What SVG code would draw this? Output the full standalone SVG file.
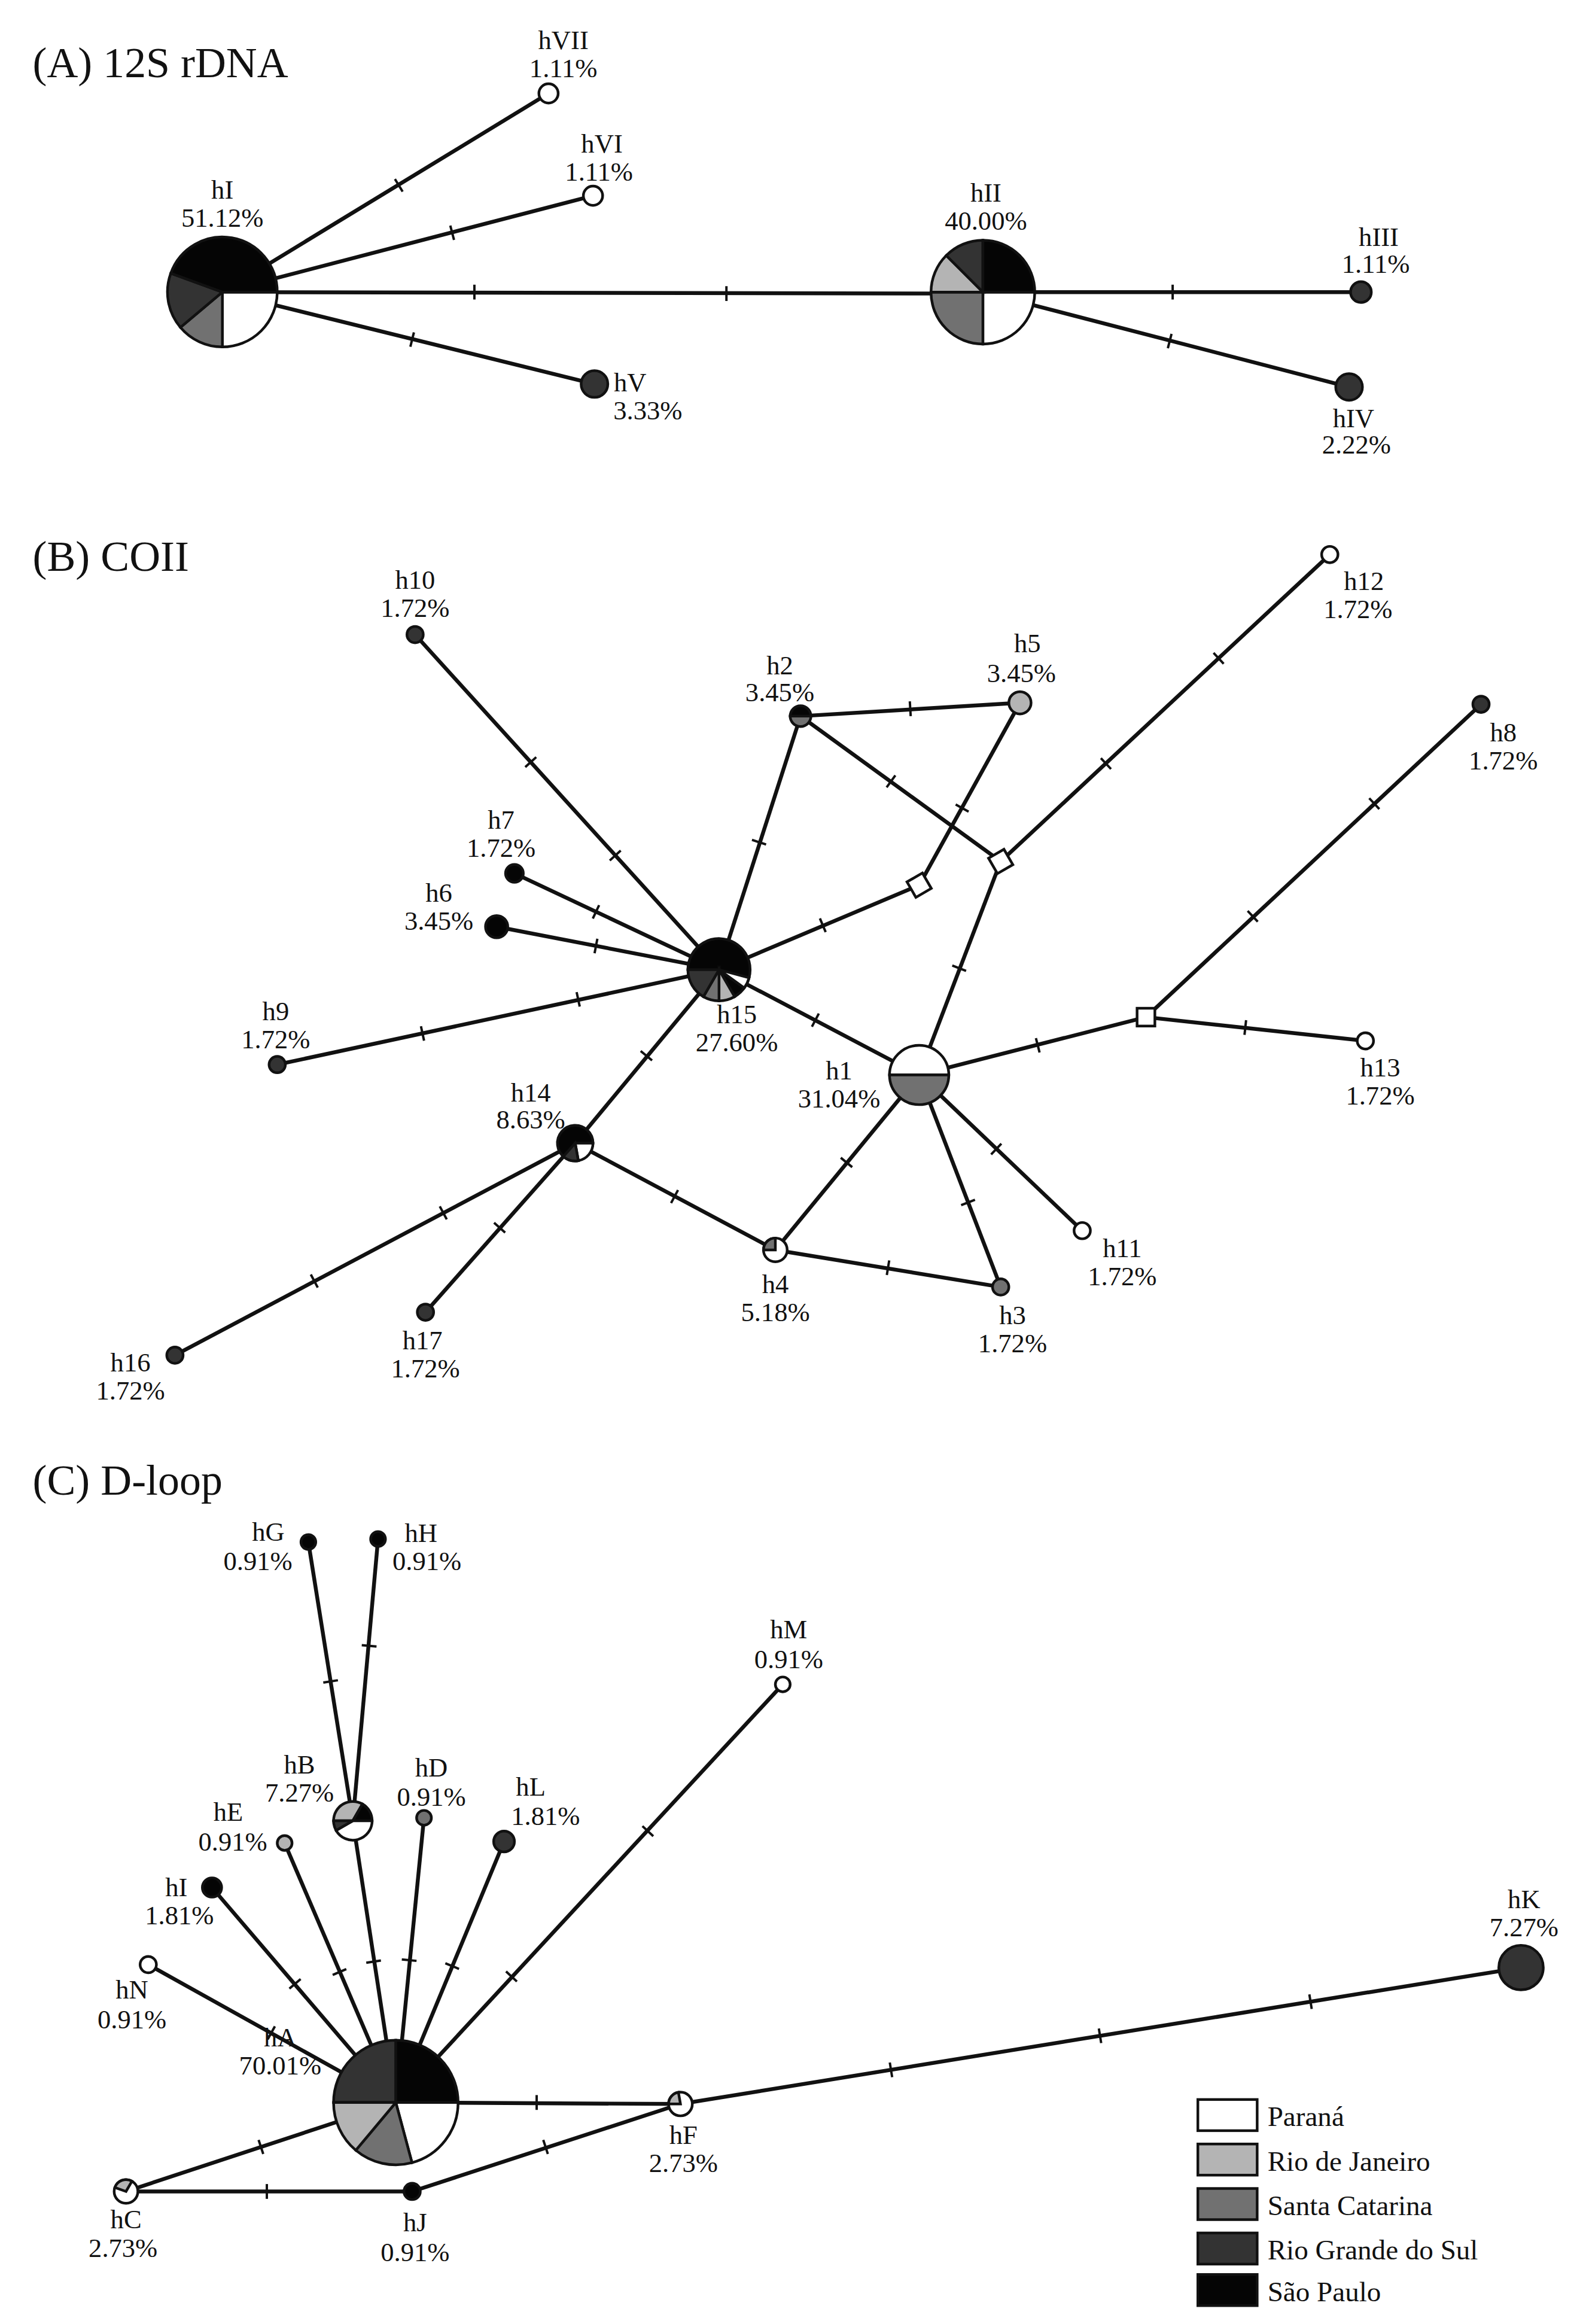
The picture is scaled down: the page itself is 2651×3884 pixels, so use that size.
<svg xmlns="http://www.w3.org/2000/svg" xmlns:xlink="http://www.w3.org/1999/xlink" width="2651" height="3884" viewBox="0 0 2651 3884">
<style>
text{font-family:"Liberation Serif","Times New Roman",serif;font-size:18px;fill:#111;text-anchor:middle}
.t{font-size:29px;text-anchor:start}
.lg{text-anchor:start;font-size:19px}
.e line,.e path{stroke:#111;stroke-width:2.6;fill:none}
.n circle,.n path,.n rect{stroke:#111;stroke-width:1.8}
.w{fill:#fff}.l{fill:#b4b4b4}.m{fill:#717171}.d{fill:#333}.k{fill:#050505}
</style>
<defs><line id="tk" x1="0" y1="-5" x2="0" y2="5" stroke="#111" stroke-width="1.6"/></defs>
<rect width="2651" height="3884" fill="#fff"/>
<g transform="scale(2.478)">
<text class="t" x="22" y="52">(A) 12S rDNA</text>
<text class="t" x="22" y="385">(B) COII</text>
<text class="t" x="22" y="1008">(C) D-loop</text>
<g id="connectors" class="e">
<line x1="150" y1="197" x2="370" y2="63"/><line x1="150" y1="197" x2="400" y2="132"/>
<line x1="150" y1="197" x2="663" y2="198"/><line x1="150" y1="197" x2="401" y2="259"/>
<line x1="663" y1="197" x2="918" y2="197"/><line x1="663" y1="197" x2="910" y2="261"/>
<line x1="280" y1="428" x2="485" y2="654"/><line x1="347" y1="589" x2="485" y2="654"/>
<line x1="335" y1="625" x2="485" y2="654"/><line x1="187" y1="718" x2="485" y2="654"/>
<line x1="485" y1="654" x2="540" y2="483"/><line x1="540" y1="483" x2="688" y2="474"/>
<line x1="620" y1="597" x2="688" y2="474"/><line x1="540" y1="483" x2="675" y2="581"/>
<line x1="485" y1="654" x2="620" y2="597"/><line x1="675" y1="581" x2="897" y2="374"/>
<line x1="675" y1="581" x2="620" y2="725"/><line x1="485" y1="654" x2="620" y2="725"/>
<line x1="620" y1="725" x2="773" y2="686"/><line x1="773" y1="686" x2="999" y2="475"/>
<line x1="773" y1="686" x2="921" y2="702"/><line x1="485" y1="654" x2="388" y2="771"/>
<line x1="388" y1="771" x2="118" y2="914"/><line x1="388" y1="771" x2="287" y2="885"/>
<line x1="388" y1="771" x2="523" y2="843"/><line x1="620" y1="725" x2="523" y2="843"/>
<line x1="523" y1="843" x2="675" y2="868"/><line x1="620" y1="725" x2="675" y2="868"/>
<line x1="620" y1="725" x2="730" y2="830"/>
<line x1="208" y1="1040" x2="238" y2="1228"/><line x1="255" y1="1038" x2="238" y2="1228"/>
<line x1="238" y1="1228" x2="267" y2="1418"/><line x1="192" y1="1243" x2="267" y2="1418"/>
<line x1="286" y1="1226" x2="267" y2="1418"/><line x1="340" y1="1242" x2="267" y2="1418"/>
<line x1="528" y1="1136" x2="267" y2="1418"/><line x1="143" y1="1273" x2="267" y2="1418"/>
<line x1="100" y1="1325" x2="267" y2="1418"/><line x1="267" y1="1418" x2="459" y2="1419"/>
<line x1="459" y1="1419" x2="1026" y2="1327"/><line x1="267" y1="1418" x2="85" y2="1478"/>
<line x1="85" y1="1478" x2="278" y2="1478"/><line x1="278" y1="1478" x2="459" y2="1419"/>
<use xlink:href="#tk" transform="translate(269,125) rotate(-31.3)"/>
<use xlink:href="#tk" transform="translate(305,157) rotate(-14.6)"/>
<use xlink:href="#tk" transform="translate(320,197)"/><use xlink:href="#tk" transform="translate(490,198)"/>
<use xlink:href="#tk" transform="translate(278,229) rotate(13.9)"/>
<use xlink:href="#tk" transform="translate(791,197)"/>
<use xlink:href="#tk" transform="translate(789,230) rotate(14.5)"/>
<use xlink:href="#tk" transform="translate(358,514) rotate(47.8)"/><use xlink:href="#tk" transform="translate(415,577) rotate(47.8)"/>
<use xlink:href="#tk" transform="translate(402,615) rotate(25.2)"/>
<use xlink:href="#tk" transform="translate(402,638) rotate(10.9)"/>
<use xlink:href="#tk" transform="translate(285,697) rotate(-12.1)"/><use xlink:href="#tk" transform="translate(390,674) rotate(-12.1)"/>
<use xlink:href="#tk" transform="translate(512,568) rotate(-72.2)"/>
<use xlink:href="#tk" transform="translate(614,478) rotate(-3.5)"/>
<use xlink:href="#tk" transform="translate(649,545) rotate(-61)"/>
<use xlink:href="#tk" transform="translate(601,527) rotate(36)"/>
<use xlink:href="#tk" transform="translate(555,624) rotate(-22.9)"/>
<use xlink:href="#tk" transform="translate(746,515) rotate(-43)"/><use xlink:href="#tk" transform="translate(822,444) rotate(-43)"/>
<use xlink:href="#tk" transform="translate(647,653) rotate(110.9)"/>
<use xlink:href="#tk" transform="translate(550,688) rotate(27.7)"/>
<use xlink:href="#tk" transform="translate(700,705) rotate(-14.3)"/>
<use xlink:href="#tk" transform="translate(845,618) rotate(-43)"/><use xlink:href="#tk" transform="translate(927,542) rotate(-43)"/>
<use xlink:href="#tk" transform="translate(840,693) rotate(6.2)"/>
<use xlink:href="#tk" transform="translate(436,712) rotate(129.7)"/>
<use xlink:href="#tk" transform="translate(299,818) rotate(152)"/><use xlink:href="#tk" transform="translate(212,864) rotate(152)"/>
<use xlink:href="#tk" transform="translate(337,828) rotate(131.5)"/>
<use xlink:href="#tk" transform="translate(455,807) rotate(28)"/>
<use xlink:href="#tk" transform="translate(571,784) rotate(129.4)"/>
<use xlink:href="#tk" transform="translate(599,855) rotate(9.3)"/>
<use xlink:href="#tk" transform="translate(653,811) rotate(69)"/>
<use xlink:href="#tk" transform="translate(672,775) rotate(43.7)"/>
<use xlink:href="#tk" transform="translate(223,1134) rotate(80.9)"/>
<use xlink:href="#tk" transform="translate(249,1110) rotate(95.1)"/>
<use xlink:href="#tk" transform="translate(252,1323) rotate(81.3)"/>
<use xlink:href="#tk" transform="translate(229,1330) rotate(66.8)"/>
<use xlink:href="#tk" transform="translate(276,1322) rotate(95.7)"/>
<use xlink:href="#tk" transform="translate(305,1326) rotate(112.5)"/>
<use xlink:href="#tk" transform="translate(437,1235) rotate(132.8)"/><use xlink:href="#tk" transform="translate(345,1333) rotate(132.8)"/>
<use xlink:href="#tk" transform="translate(199,1338) rotate(49.5)"/>
<use xlink:href="#tk" transform="translate(183,1371) rotate(29.1)"/>
<use xlink:href="#tk" transform="translate(362,1418)"/>
<use xlink:href="#tk" transform="translate(601,1396) rotate(-9.2)"/><use xlink:href="#tk" transform="translate(742,1373) rotate(-9.2)"/><use xlink:href="#tk" transform="translate(884,1350) rotate(-9.2)"/>
<use xlink:href="#tk" transform="translate(176,1448) rotate(161.8)"/>
<use xlink:href="#tk" transform="translate(180,1478)"/>
<use xlink:href="#tk" transform="translate(368,1448) rotate(-18)"/>
</g>
<!-- A nodes -->
<g id="hI-A" class="n" transform="translate(150,197)">
<path class="w" d="M0,0L37,0A37,37 0 0 1 0,37Z"/><path class="m" d="M0,0L0,37A37,37 0 0 1 -28.3,23.8Z"/>
<path class="d" d="M0,0L-28.3,23.8A37,37 0 0 1 -34.8,-12.7Z"/><path class="k" d="M0,0L-34.8,-12.7A37,37 0 0 1 37,0Z"/>
<text x="0" y="-63">hI</text><text x="0" y="-44">51.12%</text></g>
<g id="hII-A" class="n" transform="translate(663,197)">
<path class="w" d="M0,0L35,0A35,35 0 0 1 0,35Z"/><path class="m" d="M0,0L0,35A35,35 0 0 1 -35,0Z"/>
<path class="l" d="M0,0L-35,0A35,35 0 0 1 -24.7,-24.7Z"/><path class="d" d="M0,0L-24.7,-24.7A35,35 0 0 1 0,-35Z"/>
<path class="k" d="M0,0L0,-35A35,35 0 0 1 35,0Z"/>
<text x="2" y="-61">hII</text><text x="2" y="-42">40.00%</text></g>
<g id="hVII" class="n"><circle class="w" cx="370" cy="63" r="6.5"/><text x="380" y="33">hVII</text><text x="380" y="52">1.11%</text></g>
<g id="hVI" class="n"><circle class="w" cx="400" cy="132" r="6.5"/><text x="406" y="103">hVI</text><text x="404" y="122">1.11%</text></g>
<g id="hV" class="n"><circle class="d" cx="401" cy="259" r="9"/><text x="425" y="264">hV</text><text x="437" y="283">3.33%</text></g>
<g id="hIII" class="n"><circle class="d" cx="918" cy="197" r="7"/><text x="930" y="166">hIII</text><text x="928" y="184">1.11%</text></g>
<g id="hIV" class="n"><circle class="d" cx="910" cy="261" r="9"/><text x="913" y="288">hIV</text><text x="915" y="306">2.22%</text></g>
<!-- B nodes -->
<g id="h15" class="n" transform="translate(485,654)">
<path class="k" d="M0,0L-21,0A21,21 0 1 1 10.5,18.2Z"/><path class="l" d="M0,0L10.5,18.2A21,21 0 0 1 0,21Z"/>
<path class="m" d="M0,0L0,21A21,21 0 0 1 -10.5,18.2Z"/><path class="d" d="M0,0L-10.5,18.2A21,21 0 0 1 -21,0Z"/>
<path class="w" d="M0,0L20.3,5.4A21,21 0 0 1 17,12.3Z"/>
<text x="12" y="36">h15</text><text x="12" y="55">27.60%</text></g>
<g id="h1" class="n" transform="translate(620,725)">
<path class="w" d="M-20,0A20,20 0 0 1 20,0Z"/><path class="m" d="M20,0A20,20 0 0 1 -20,0Z"/>
<text x="-54" y="3">h1</text><text x="-54" y="22">31.04%</text></g>
<g id="h14" class="n" transform="translate(388,771)">
<path class="k" d="M0,0L2.1,11.8A12,12 0 1 1 12,0Z"/><path class="w" d="M0,0L12,0A12,12 0 0 1 2.1,11.8Z"/>
<path class="d" d="M0,0L2.1,11.8A12,12 0 0 1 -8,9Z"/>
<text x="-30" y="-28">h14</text><text x="-30" y="-10">8.63%</text></g>
<g id="h4" class="n" transform="translate(523,843)">
<circle class="w" r="8"/><path class="m" d="M0,0L-8,0A8,8 0 0 1 0,-8Z"/>
<text x="0" y="29">h4</text><text x="0" y="48">5.18%</text></g>
<g id="h2" class="n" transform="translate(540,483)">
<path class="k" d="M-7,0A7,7 0 0 1 7,0Z"/><path class="m" d="M7,0A7,7 0 0 1 -7,0Z"/>
<text x="-14" y="-28">h2</text><text x="-14" y="-10">3.45%</text></g>
<g id="h5" class="n"><circle class="l" cx="688" cy="474" r="7.5"/><text x="693" y="440">h5</text><text x="689" y="460">3.45%</text></g>
<g id="h10" class="n"><circle class="d" cx="280" cy="428" r="5.5"/><text x="280" y="397">h10</text><text x="280" y="416">1.72%</text></g>
<g id="h12" class="n"><circle class="w" cx="897" cy="374" r="5.5"/><text x="920" y="398">h12</text><text x="916" y="417">1.72%</text></g>
<g id="h8" class="n"><circle class="d" cx="999" cy="475" r="5.5"/><text x="1014" y="500">h8</text><text x="1014" y="519">1.72%</text></g>
<g id="h7" class="n"><circle class="k" cx="347" cy="589" r="6"/><text x="338" y="559">h7</text><text x="338" y="578">1.72%</text></g>
<g id="h6" class="n"><circle class="k" cx="335" cy="625" r="7.5"/><text x="296" y="608">h6</text><text x="296" y="627">3.45%</text></g>
<g id="h9" class="n"><circle class="d" cx="187" cy="718" r="5.5"/><text x="186" y="688">h9</text><text x="186" y="707">1.72%</text></g>
<g id="h13" class="n"><circle class="w" cx="921" cy="702" r="5.5"/><text x="931" y="726">h13</text><text x="931" y="745">1.72%</text></g>
<g id="h11" class="n"><circle class="w" cx="730" cy="830" r="5.5"/><text x="757" y="848">h11</text><text x="757" y="867">1.72%</text></g>
<g id="h3" class="n"><circle class="m" cx="675" cy="868" r="5.5"/><text x="683" y="893">h3</text><text x="683" y="912">1.72%</text></g>
<g id="h16" class="n"><circle class="d" cx="118" cy="914" r="5.5"/><text x="88" y="925">h16</text><text x="88" y="944">1.72%</text></g>
<g id="h17" class="n"><circle class="d" cx="287" cy="885" r="5.5"/><text x="285" y="910">h17</text><text x="287" y="929">1.72%</text></g>
<g id="sq1" class="n"><rect class="w" x="-6" y="-6" width="12" height="12" transform="translate(620,597) rotate(-30)"/></g>
<g id="sq2" class="n"><rect class="w" x="-6" y="-6" width="12" height="12" transform="translate(675,581) rotate(-30)"/></g>
<g id="sq3" class="n"><rect class="w" x="-6" y="-6" width="12" height="12" transform="translate(773,686)"/></g>
<!-- C nodes -->
<g id="hA" class="n" transform="translate(267,1418)">
<path class="d" d="M0,0L-42,0A42,42 0 0 1 0,-42Z"/><path class="k" d="M0,0L0,-42A42,42 0 0 1 42,0Z"/>
<path class="w" d="M0,0L42,0A42,42 0 0 1 10.9,40.6Z"/><path class="m" d="M0,0L10.9,40.6A42,42 0 0 1 -27,32.2Z"/>
<path class="l" d="M0,0L-27,32.2A42,42 0 0 1 -42,0Z"/>
<text x="-78" y="-38">hA</text><text x="-78" y="-19">70.01%</text></g>
<g id="hB" class="n" transform="translate(238,1228)">
<path class="l" d="M0,0L-13,0A13,13 0 0 1 6.5,-11.3Z"/><path class="k" d="M0,0L6.5,-11.3A13,13 0 0 1 13,0Z"/>
<path class="w" d="M0,0L13,0A13,13 0 0 1 -11.3,6.5Z"/><path class="d" d="M0,0L-11.3,6.5A13,13 0 0 1 -13,0Z"/>
<text x="-36" y="-32">hB</text><text x="-36" y="-13">7.27%</text></g>
<g id="hF" class="n" transform="translate(459,1419)">
<circle class="w" r="8"/><path class="l" d="M0,0L-8,0A8,8 0 0 1 -1.4,-7.9Z"/>
<text x="2" y="27">hF</text><text x="2" y="46">2.73%</text></g>
<g id="hC" class="n" transform="translate(85,1478)">
<circle class="w" r="8"/><path class="l" d="M0,0L-7.5,-2.7A8,8 0 0 1 4,-6.9Z"/>
<text x="0" y="25">hC</text><text x="-2" y="44">2.73%</text></g>
<g id="hG" class="n"><circle class="k" cx="208" cy="1040" r="5"/><text x="181" y="1039">hG</text><text x="174" y="1059">0.91%</text></g>
<g id="hH" class="n"><circle class="k" cx="255" cy="1038" r="5"/><text x="284" y="1040">hH</text><text x="288" y="1059">0.91%</text></g>
<g id="hM" class="n"><circle class="w" cx="528" cy="1136" r="5"/><text x="532" y="1105">hM</text><text x="532" y="1125">0.91%</text></g>
<g id="hD" class="n"><circle class="m" cx="286" cy="1226" r="5"/><text x="291" y="1198">hD</text><text x="291" y="1218">0.91%</text></g>
<g id="hL" class="n"><circle class="d" cx="340" cy="1242" r="7"/><text x="358" y="1211">hL</text><text x="368" y="1231">1.81%</text></g>
<g id="hE" class="n"><circle class="l" cx="192" cy="1243" r="5"/><text x="154" y="1228">hE</text><text x="157" y="1248">0.91%</text></g>
<g id="hI-C" class="n"><circle class="k" cx="143" cy="1273" r="6.5"/><text x="119" y="1279">hI</text><text x="121" y="1298">1.81%</text></g>
<g id="hN" class="n"><circle class="w" cx="100" cy="1325" r="5.5"/><text x="89" y="1348">hN</text><text x="89" y="1368">0.91%</text></g>
<g id="hJ" class="n"><circle class="k" cx="278" cy="1478" r="5.5"/><text x="280" y="1505">hJ</text><text x="280" y="1525">0.91%</text></g>
<g id="hK" class="n"><circle class="d" cx="1026" cy="1327" r="15"/><text x="1028" y="1287">hK</text><text x="1028" y="1306">7.27%</text></g>
<g id="legend" class="n">
<rect class="w" x="808" y="1416" width="40" height="21"/><text class="lg" x="855" y="1434">Paraná</text>
<rect class="l" x="808" y="1446" width="40" height="21"/><text class="lg" x="855" y="1464">Rio de Janeiro</text>
<rect class="m" x="808" y="1476" width="40" height="21"/><text class="lg" x="855" y="1494">Santa Catarina</text>
<rect class="d" x="808" y="1506" width="40" height="21"/><text class="lg" x="855" y="1524">Rio Grande do Sul</text>
<rect class="k" x="808" y="1534" width="40" height="21"/><text class="lg" x="855" y="1552">São Paulo</text>
</g>
</g>
</svg>
